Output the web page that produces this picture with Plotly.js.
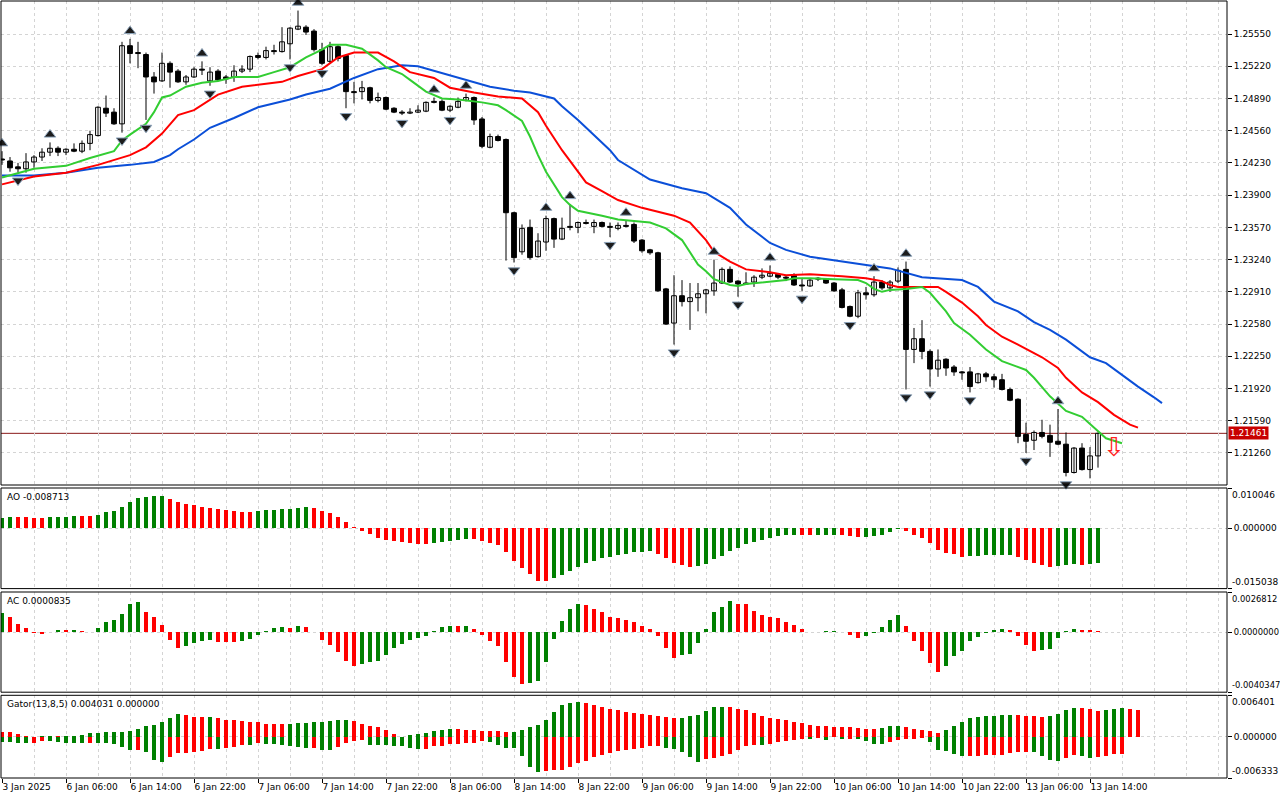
<!DOCTYPE html>
<html><head><meta charset="utf-8">
<script src="https://cdn.plot.ly/plotly-3.0.1.min.js"></script>
<style>html,body{margin:0;padding:0;background:#fff;}#chart{width:1280px;height:800px;}</style>
</head><body><div id="chart"></div>
<script>
// ---------- DATA ----------
const timeLabels = ['3 Jan 2025','6 Jan 06:00','6 Jan 14:00','6 Jan 22:00','7 Jan 06:00','7 Jan 14:00','7 Jan 22:00','8 Jan 06:00','8 Jan 14:00','8 Jan 22:00','9 Jan 06:00','9 Jan 14:00','9 Jan 22:00','10 Jan 06:00','10 Jan 14:00','10 Jan 22:00','13 Jan 06:00','13 Jan 14:00'];
const timeLabelIdx = [0,8,16,24,32,40,48,56,64,72,80,88,96,104,112,120,128,136];
const priceTicks = [1.21260,1.21590,1.21920,1.22250,1.22580,1.22910,1.23240,1.23570,1.23900,1.24230,1.24560,1.24890,1.25220,1.25550];

const open = [1.2427,1.2425,1.2419,1.2417,1.2424,1.2429,1.2434,1.2438,1.2434,1.2437,
1.2435,1.2443,1.2451,1.2479,1.2475,1.2463,1.2543,1.2536,1.2534,1.2511,
1.2507,1.2525,1.2517,1.2506,1.2511,1.2519,1.2507,1.2517,1.2511,1.2511,
1.2517,1.2519,1.2533,1.2531,1.2538,1.2537,1.2545,1.2560,1.2562,1.2558,
1.2539,1.2527,1.2542,1.2533,1.2496,1.2496,1.2500,1.2487,1.2490,1.2479,
1.2475,1.2474,1.2475,1.2476,1.2486,1.2486,1.2477,1.2480,1.2487,1.2490,
1.2468,1.2439,1.2450,1.2447,1.2372,1.2332,1.2357,1.2327,1.2342,1.2366,
1.2345,1.2358,1.2357,1.2362,1.2358,1.2362,1.2358,1.2356,1.2359,1.2360,
1.2344,1.2334,1.2331,1.2294,1.2259,1.2287,1.2281,1.2285,1.2289,1.2292,
1.2300,1.2314,1.2302,1.2299,1.2301,1.2306,1.2307,1.2309,1.2306,1.2308,
1.2298,1.2297,1.2305,1.2304,1.2300,1.2293,1.2276,1.2266,1.2290,1.2288,
1.2301,1.2295,1.2302,1.2314,1.2232,1.2243,1.2230,1.2212,1.2222,1.2214,
1.2209,1.2209,1.2198,1.2207,1.2204,1.2201,1.2191,1.2181,1.2145,1.2139,
1.2147,1.2144,1.2138,1.2135,1.2106,1.2131,1.2109,1.2123];
const high = [1.2435,1.2429,1.2423,1.2433,1.2431,1.2438,1.2444,1.2440,1.2438,1.2443,
1.2446,1.2456,1.2481,1.2492,1.2479,1.2547,1.2550,1.2547,1.2536,1.2516,
1.2536,1.2527,1.2519,1.2513,1.2521,1.2527,1.2521,1.2519,1.2513,1.2523,
1.2523,1.2533,1.2536,1.2542,1.2544,1.2562,1.2562,1.2579,1.2564,1.2560,
1.2546,1.2547,1.2544,1.2534,1.2506,1.2507,1.2501,1.2495,1.2491,1.2480,
1.2477,1.2479,1.2482,1.2486,1.2490,1.2488,1.2482,1.2490,1.2494,1.2491,
1.2470,1.2453,1.2452,1.2448,1.2373,1.2360,1.2365,1.2351,1.2369,1.2367,
1.2367,1.2381,1.2363,1.2365,1.2365,1.2363,1.2362,1.2362,1.2364,1.2362,
1.2345,1.2335,1.2332,1.2295,1.2308,1.2303,1.2300,1.2300,1.2294,1.2324,
1.2316,1.2317,1.2303,1.2311,1.2308,1.2315,1.2318,1.2310,1.2308,1.2310,
1.2304,1.2305,1.2306,1.2305,1.2301,1.2295,1.2277,1.2293,1.2296,1.2307,
1.2303,1.2303,1.2316,1.2322,1.2254,1.2262,1.2232,1.2232,1.2223,1.2216,
1.2210,1.2214,1.2208,1.2209,1.2207,1.2207,1.2193,1.2182,1.2157,1.2149,
1.2160,1.2155,1.2171,1.2147,1.2132,1.2136,1.2132,1.2147];
const low = [1.2421,1.2414,1.2413,1.2413,1.2418,1.2425,1.2430,1.2430,1.2431,1.2434,
1.2433,1.2436,1.2450,1.2470,1.2462,1.2454,1.2525,1.2520,1.2467,1.2494,
1.2506,1.2500,1.2505,1.2503,1.2510,1.2513,1.2502,1.2507,1.2504,1.2506,
1.2515,1.2516,1.2529,1.2529,1.2534,1.2536,1.2529,1.2559,1.2554,1.2537,
1.2523,1.2525,1.2527,1.2479,1.2484,1.2488,1.2484,1.2485,1.2477,1.2474,
1.2472,1.2473,1.2474,1.2475,1.2484,1.2476,1.2475,1.2479,1.2486,1.2462,
1.2438,1.2438,1.2445,1.2323,1.2321,1.2329,1.2324,1.2326,1.2333,1.2336,
1.2344,1.2354,1.2351,1.2360,1.2351,1.2357,1.2347,1.2354,1.2357,1.2341,
1.2331,1.2329,1.2291,1.2257,1.2237,1.2276,1.2252,1.2271,1.2269,1.2287,
1.2299,1.2300,1.2286,1.2298,1.2296,1.2304,1.2306,1.2304,1.2302,1.2297,
1.2292,1.2296,1.2302,1.2299,1.2291,1.2274,1.2265,1.2264,1.2283,1.2286,
1.2293,1.2291,1.2300,1.2191,1.2218,1.2222,1.2194,1.2204,1.2205,1.2205,
1.2201,1.2188,1.2197,1.2199,1.2193,1.2190,1.2179,1.2136,1.2126,1.2129,
1.2141,1.2122,1.2134,1.2102,1.2105,1.2108,1.2100,1.2111];
const close = [1.2426,1.2418,1.2417,1.2424,1.2429,1.2434,1.2438,1.2434,1.2437,1.2435,
1.2443,1.2452,1.2480,1.2474,1.2463,1.2543,1.2535,1.2535,1.2511,1.2506,
1.2525,1.2516,1.2506,1.2511,1.2519,1.2518,1.2516,1.2508,1.2509,1.2517,
1.2519,1.2532,1.2531,1.2538,1.2537,1.2547,1.2561,1.2563,1.2557,1.2539,
1.2525,1.2542,1.2530,1.2496,1.2495,1.2500,1.2487,1.2490,1.2478,1.2475,
1.2474,1.2475,1.2477,1.2485,1.2485,1.2477,1.2481,1.2486,1.2490,1.2467,
1.2440,1.2450,1.2446,1.2372,1.2326,1.2356,1.2326,1.2343,1.2366,1.2345,
1.2356,1.2357,1.2362,1.2361,1.2362,1.2358,1.2357,1.2359,1.2358,1.2343,
1.2333,1.2331,1.2292,1.2258,1.2287,1.2281,1.2285,1.2289,1.2293,1.2300,
1.2314,1.2301,1.2299,1.2300,1.2306,1.2308,1.2310,1.2306,1.2305,1.2298,
1.2297,1.2303,1.2304,1.2300,1.2292,1.2275,1.2266,1.2290,1.2288,1.2301,
1.2295,1.2301,1.2313,1.2232,1.2243,1.2230,1.2212,1.2221,1.2213,1.2209,
1.2208,1.2194,1.2207,1.2204,1.2201,1.2191,1.2180,1.2143,1.2138,1.2147,
1.2143,1.2137,1.2135,1.2106,1.2131,1.2109,1.2123,1.21461];

const jawIdx = [0,4,8,12,16,19,21,22,24,26,29,32,36,38,41,44,47,50,52,55,58,61,64,66,69,70,72,74,76,77,80,81,85,88,91,93,96,98,101,105,108,111,115,120,122,124,127,129,131,133,136,138,140,142,144,145];
const jawVal = [1.2410,1.2410,1.2413,1.2418,1.2421,1.2424,1.2431,1.2437,1.2447,1.2459,1.2469,1.2480,1.2488,1.2493,1.2499,1.2510,1.2519,1.2523,1.2522,1.2515,1.2508,1.2501,1.2497,1.2495,1.2489,1.2481,1.2467,1.2452,1.2436,1.2426,1.2411,1.2406,1.2397,1.2392,1.2377,1.2360,1.2341,1.2334,1.2327,1.2322,1.2319,1.2315,1.2306,1.2303,1.2296,1.2281,1.2271,1.2260,1.2252,1.2242,1.2224,1.2218,1.2206,1.2194,1.2183,1.2177];
const teethIdx = [0,4,8,12,16,18,20,21,22,24,26,27,30,32,35,37,40,42,44,47,49,51,54,56,59,62,65,67,68,70,72,73,75,77,80,82,84,86,88,89,91,93,96,98,101,105,108,110,111,112,115,117,118,120,122,123,125,127,130,132,133,135,137,139,141,142];
const teethVal = [1.2401,1.2409,1.2413,1.2421,1.2431,1.2439,1.2453,1.2462,1.2472,1.2477,1.2488,1.2493,1.2501,1.2503,1.2506,1.2512,1.2519,1.2531,1.2536,1.2536,1.2527,1.2516,1.2510,1.2500,1.2495,1.2491,1.2489,1.2475,1.2461,1.2436,1.2414,1.2403,1.2394,1.2385,1.2377,1.2373,1.2369,1.2362,1.2344,1.2332,1.2322,1.2314,1.2311,1.2308,1.2309,1.2307,1.2305,1.2302,1.2298,1.2296,1.2296,1.2296,1.2291,1.2280,1.2266,1.2257,1.2245,1.2237,1.2224,1.2213,1.2203,1.2188,1.2178,1.2165,1.2155,1.2152];
const lipsIdx = [0,4,8,11,14,15,16,18,19,20,21,23,25,27,29,32,34,36,38,40,41,43,45,47,48,50,51,53,55,57,60,62,63,65,66,67,68,70,71,72,75,77,81,83,85,86,87,88,89,91,92,93,96,98,99,101,104,107,108,109,110,111,113,115,116,118,119,121,123,125,128,129,131,132,133,135,136,137,138,140];
const lipsVal = [1.2408,1.2417,1.2420,1.2428,1.2435,1.2446,1.2452,1.2463,1.2475,1.2490,1.2492,1.2501,1.2505,1.2507,1.2511,1.2511,1.2516,1.2521,1.2531,1.2539,1.2544,1.2544,1.2540,1.2528,1.2521,1.2514,1.2508,1.2496,1.2489,1.2488,1.2485,1.2482,1.2477,1.2466,1.2450,1.2431,1.2414,1.2388,1.2380,1.2374,1.2369,1.2365,1.2362,1.2356,1.2344,1.2331,1.2319,1.2312,1.2304,1.2298,1.2297,1.2299,1.2301,1.2303,1.2305,1.2305,1.2304,1.2303,1.2300,1.2294,1.2291,1.2293,1.2294,1.2296,1.2290,1.2271,1.2259,1.2247,1.2232,1.2220,1.2211,1.2203,1.2184,1.2177,1.2169,1.2163,1.2156,1.2148,1.2141,1.2136];

const fractalUpIdx = [0,6,16,25,37,54,58,68,71,78,89,96,109,113,132];
const fractalDownIdx = [2,15,18,26,36,40,43,50,56,64,76,84,92,100,106,113,116,121,128,133];

const aoVal = [0.00266,0.00283,0.00278,0.00274,0.00258,0.00253,0.00274,0.00283,0.00287,0.00307,
0.00303,0.00299,0.00332,0.00407,0.00432,0.00532,0.00656,0.00756,0.00781,0.00798,
0.00806,0.00731,0.00656,0.00615,0.00582,0.00532,0.00515,0.00490,0.00449,0.00424,
0.00407,0.00403,0.00424,0.00449,0.00465,0.00482,0.00486,0.00507,0.00524,0.00507,
0.00432,0.00382,0.00283,0.00158,0.00033,-0.00058,-0.00133,-0.00233,-0.00283,-0.00307,
-0.00332,-0.00357,-0.00382,-0.00386,-0.00357,-0.00332,-0.00307,-0.00283,-0.00258,-0.00262,
-0.00307,-0.00357,-0.00407,-0.00582,-0.00806,-0.00981,-0.01130,-0.01305,-0.01309,-0.01230,
-0.01159,-0.01064,-0.00964,-0.00864,-0.00814,-0.00740,-0.00715,-0.00665,-0.00640,-0.00590,
-0.00582,-0.00573,-0.00640,-0.00740,-0.00864,-0.00914,-0.00964,-0.00939,-0.00889,-0.00765,
-0.00690,-0.00565,-0.00490,-0.00391,-0.00341,-0.00291,-0.00241,-0.00191,-0.00166,-0.00158,
-0.00166,-0.00175,-0.00166,-0.00162,-0.00158,-0.00175,-0.00191,-0.00216,-0.00212,-0.00191,
-0.00166,-0.00091,-0.00017,-0.00066,-0.00166,-0.00241,-0.00366,-0.00540,-0.00615,-0.00640,
-0.00715,-0.00690,-0.00681,-0.00677,-0.00673,-0.00665,-0.00656,-0.00715,-0.00789,-0.00864,
-0.00914,-0.00964,-0.00939,-0.00914,-0.00889,-0.00914,-0.00889,-0.008713];
const acVal = [0.00130,0.00101,0.00056,0.00029,-0.00004,-0.00011,-0.00002,0.00013,0.00011,0.00013,
0.00007,0.00002,0.00027,0.00067,0.00080,0.00121,0.00188,0.00201,0.00134,0.00101,
0.00047,-0.00051,-0.00105,-0.00092,-0.00071,-0.00058,-0.00056,-0.00065,-0.00066,-0.00067,
-0.00063,-0.00045,-0.00018,0.00004,0.00027,0.00034,0.00027,0.00040,0.00034,-0.00002,
-0.00051,-0.00085,-0.00132,-0.00192,-0.00226,-0.00212,-0.00199,-0.00192,-0.00152,-0.00105,
-0.00078,-0.00051,-0.00038,-0.00025,0.00004,0.00034,0.00042,0.00041,0.00043,0.00022,
-0.00018,-0.00058,-0.00092,-0.00199,-0.00299,-0.00346,-0.00344,-0.00326,-0.00199,-0.00045,
0.00076,0.00154,0.00188,0.00181,0.00154,0.00134,0.00101,0.00094,0.00080,0.00067,
0.00040,0.00020,-0.00025,-0.00105,-0.00172,-0.00152,-0.00145,-0.00071,0.00020,0.00134,
0.00168,0.00208,0.00188,0.00185,0.00141,0.00114,0.00101,0.00094,0.00067,0.00047,
0.00020,0.00002,0.00003,0.00004,0.00005,0.00001,-0.00022,-0.00038,-0.00025,-0.00004,
0.00034,0.00080,0.00114,0.00040,-0.00058,-0.00125,-0.00206,-0.00266,-0.00226,-0.00159,
-0.00125,-0.00058,-0.00031,-0.00004,0.00013,0.00020,0.00013,-0.00025,-0.00085,-0.00125,
-0.00118,-0.00112,-0.00038,0.00007,0.00020,0.00013,0.00012,0.0000835];
const gatorUpper = [0.00077,0.00076,0.00041,0.00010,0.00003,0.00010,0.00011,0.00010,0.00013,0.00021,
0.00031,0.00062,0.00064,0.00077,0.00080,0.00082,0.00088,0.00124,0.00170,0.00186,
0.00232,0.00294,0.00356,0.00340,0.00309,0.00304,0.00307,0.00294,0.00263,0.00260,
0.00237,0.00232,0.00222,0.00205,0.00202,0.00200,0.00202,0.00216,0.00218,0.00232,
0.00234,0.00247,0.00263,0.00265,0.00247,0.00201,0.00170,0.00155,0.00108,0.00046,
0.00002,0.00031,0.00046,0.00062,0.00093,0.00108,0.00124,0.00119,0.00108,0.00107,
0.00093,0.00092,0.00091,0.00077,0.00078,0.00108,0.00155,0.00186,0.00263,0.00387,
0.00495,0.00526,0.00541,0.00526,0.00495,0.00464,0.00433,0.00417,0.00387,0.00371,
0.00356,0.00340,0.00325,0.00309,0.00294,0.00296,0.00325,0.00340,0.00402,0.00464,
0.00466,0.00464,0.00433,0.00417,0.00371,0.00325,0.00294,0.00278,0.00263,0.00232,
0.00206,0.00186,0.00170,0.00168,0.00155,0.00154,0.00152,0.00139,0.00124,0.00121,
0.00139,0.00170,0.00173,0.00155,0.00124,0.00108,0.00093,0.00062,0.00108,0.00170,
0.00232,0.00294,0.00309,0.00325,0.00327,0.00340,0.00343,0.00340,0.00325,0.00322,
0.00309,0.00325,0.00356,0.00417,0.00448,0.00446,0.00433,0.004031,0.00417,0.00433,
0.00448,0.00433,0.00410];
const gatorLower = [-0.00082,-0.00083,-0.00093,-0.00094,-0.00092,-0.00062,-0.00064,-0.00082,-0.00093,-0.00094,
-0.00095,-0.00093,-0.00095,-0.00096,-0.00113,-0.00155,-0.00201,-0.00200,-0.00232,-0.00356,
-0.00387,-0.00309,-0.00247,-0.00246,-0.00232,-0.00216,-0.00186,-0.00188,-0.00170,-0.00160,
-0.00124,-0.00126,-0.00093,-0.00108,-0.00110,-0.00124,-0.00139,-0.00155,-0.00170,-0.00165,
-0.00201,-0.00204,-0.00155,-0.00093,-0.00062,-0.00046,-0.00124,-0.00126,-0.00129,-0.00139,
-0.00142,-0.00170,-0.00186,-0.00183,-0.00139,-0.00137,-0.00108,-0.00106,-0.00093,-0.00090,
-0.00062,-0.00077,-0.00124,-0.00170,-0.00173,-0.00294,-0.00464,-0.00541,-0.00526,-0.00515,
-0.00510,-0.00464,-0.00402,-0.00371,-0.00309,-0.00278,-0.00247,-0.00216,-0.00201,-0.00186,
-0.00170,-0.00144,-0.00139,-0.00170,-0.00186,-0.00232,-0.00309,-0.00392,-0.00340,-0.00325,
-0.00294,-0.00263,-0.00201,-0.00139,-0.00124,-0.00126,-0.00108,-0.00077,-0.00062,-0.00046,
-0.00031,-0.00034,-0.00015,-0.00041,-0.00003,-0.00031,-0.00028,-0.00034,-0.00062,-0.00108,
-0.00111,-0.00077,-0.00046,-0.00031,-0.00026,-0.00010,-0.00077,-0.00201,-0.00216,-0.00263,
-0.00294,-0.00291,-0.00289,-0.00286,-0.00278,-0.00276,-0.00247,-0.00232,-0.00229,-0.00232,
-0.00294,-0.00356,-0.00371,-0.00325,-0.00278,-0.00294,-0.00325,-0.00309,-0.00294,-0.00263,
-0.00258];

const lastPrice = 1.21461;
const sellSignalIdx = 139;
const sellSignalPrice = 1.2132;

// scale ranges (from axis labels)
const priceRange = [1.20932, 1.25888];
const aoRange = [-0.015038, 0.010046];
const acRange = [-0.0040347, 0.0026812];
const gatorRange = [-0.006333, 0.006401];

// ---------- BUILD ----------
const GREEN = '#008000', RED = '#ff0000';
const FAM = 'DejaVu Sans, Verdana, sans-serif';
const FONT = {family: FAM, size: 9, color: '#000'};
const FONT_S = {family: FAM, size: 8.4, color: '#000'};
const GRID = '#d4d4d4', DASH = '3px,3px';
const idx = open.map((_, i) => i);

const wx = [], wy = [];
idx.forEach(i => { wx.push(i, i, null); wy.push(low[i], high[i], null); });
const bodyBase = idx.map(i => Math.min(open[i], close[i]));
const bodyH = idx.map(i => Math.max(Math.abs(close[i] - open[i]), 0.00003));
const bodyCol = idx.map(i => close[i] >= open[i] ? '#ffffff' : '#000000');

function slopeColors(v, first, useAbs) {
  return v.map((x, i) => {
    if (i === 0) return first;
    const a = useAbs ? Math.abs(x) : x, b = useAbs ? Math.abs(v[i - 1]) : v[i - 1];
    return a > b ? GREEN : RED;
  });
}

const traces = [
  {type: 'scatter', mode: 'lines', x: wx, y: wy, xaxis: 'x', yaxis: 'y',
   line: {color: '#000', width: 1}, hoverinfo: 'skip'},
  {type: 'bar', x: idx, y: bodyH, base: bodyBase, xaxis: 'x', yaxis: 'y', width: 0.6,
   marker: {color: bodyCol, line: {color: '#000', width: 1}}},
  {type: 'scatter', mode: 'lines', x: jawIdx, y: jawVal, line: {color: '#0b4fd8', width: 2}, yaxis: 'y'},
  {type: 'scatter', mode: 'lines', x: teethIdx, y: teethVal, line: {color: '#ff0000', width: 2}, yaxis: 'y'},
  {type: 'scatter', mode: 'lines', x: lipsIdx, y: lipsVal, line: {color: '#32cd32', width: 2}, yaxis: 'y'},
  {type: 'scatter', mode: 'markers', x: fractalUpIdx, y: fractalUpIdx.map(i => high[i] + 0.0008), yaxis: 'y',
   cliponaxis: false,
   marker: {symbol: 'triangle-up', size: 10, color: '#1c1c1c', line: {color: '#8fa6bd', width: 1}}},
  {type: 'scatter', mode: 'markers', x: fractalDownIdx, y: fractalDownIdx.map(i => low[i] - 0.0008), yaxis: 'y',
   cliponaxis: false,
   marker: {symbol: 'triangle-down', size: 10, color: '#1c1c1c', line: {color: '#8fa6bd', width: 1}}},
  {type: 'bar', x: idx, y: aoVal, yaxis: 'y2', width: 0.62,
   marker: {color: slopeColors(aoVal, GREEN, false), line: {width: 0}}},
  {type: 'bar', x: idx, y: acVal, yaxis: 'y3', width: 0.62,
   marker: {color: slopeColors(acVal, GREEN, false), line: {width: 0}}},
  {type: 'bar', x: gatorUpper.map((_, i) => i), y: gatorUpper, yaxis: 'y4', width: 0.62,
   marker: {color: slopeColors(gatorUpper, RED, true), line: {width: 0}}},
  {type: 'bar', x: gatorLower.map((_, i) => i), y: gatorLower, yaxis: 'y4', width: 0.62,
   marker: {color: slopeColors(gatorLower, GREEN, true), line: {width: 0}}}
];

const H = 777, TOP = 1;
const dom = (a, b) => [(778 - b) / H, (778 - a) / H];

function indAxis(domain, range, zeroText, f) {
  return {domain: domain, range: range, side: 'right', anchor: 'x', fixedrange: true,
    tickvals: [range[0], 0, range[1]], ticktext: ['', zeroText, ''],
    ticks: 'outside', ticklen: 4, tickcolor: '#000', tickfont: f,
    showgrid: true, gridcolor: GRID, griddash: DASH, zeroline: false, showline: false};
}

const edge = (yref, y, text, f) => ({xref: 'paper', x: 1, xanchor: 'left', xshift: 3, yref: yref, y: y,
  yanchor: y === 1 ? 'top' : 'bottom', text: text, showarrow: false, font: f});
const title = (yref, text) => ({xref: 'paper', x: 0, xanchor: 'left', xshift: 4, yref: yref, y: 1,
  yanchor: 'top', yshift: -2, text: text, showarrow: false, font: FONT});

const layout = {
  width: 1280, height: 800,
  margin: {l: 1, r: 53, t: TOP, b: 22},
  paper_bgcolor: '#fff', plot_bgcolor: '#fff',
  showlegend: false, barmode: 'overlay', bargap: 0, hovermode: false,
  font: FONT,
  xaxis: {range: [-0.125, 153.125], anchor: 'y4', fixedrange: true,
    tickvals: timeLabelIdx, ticktext: timeLabels, ticklabelposition: 'outside right', tickangle: 0,
    ticks: 'outside', ticklen: 4, tickcolor: '#000', tickfont: FONT,
    showgrid: true, gridcolor: GRID, griddash: DASH,
    minor: {dtick: 4, tick0: 0, showgrid: true, gridcolor: GRID, griddash: DASH, ticks: ''},
    zeroline: false, showline: false},
  yaxis: {domain: dom(1, 485), range: priceRange, side: 'right', anchor: 'x', fixedrange: true,
    tickvals: priceTicks, tickformat: '.5f', ticks: 'outside', ticklen: 4, tickcolor: '#000', tickfont: FONT,
    showgrid: true, gridcolor: GRID, griddash: DASH, zeroline: false, showline: false},
  yaxis2: indAxis(dom(488, 588.6), aoRange, '0.000000', FONT),
  yaxis3: indAxis(dom(592, 692.2), acRange, '0.0000000', FONT_S),
  yaxis4: indAxis(dom(695.3, 778), gatorRange, '0.000000', FONT),
  shapes: [
    {type: 'line', xref: 'paper', x0: 0, x1: 1, yref: 'y', y0: lastPrice, y1: lastPrice,
     line: {color: '#8a1a1a', width: 1}, layer: 'below'},
    {type: 'rect', xref: 'paper', x0: 0, x1: 1, yref: 'y domain', y0: 0, y1: 1, line: {color: '#000', width: 1}},
    {type: 'rect', xref: 'paper', x0: 0, x1: 1, yref: 'y2 domain', y0: 0, y1: 1, line: {color: '#000', width: 1}},
    {type: 'rect', xref: 'paper', x0: 0, x1: 1, yref: 'y3 domain', y0: 0, y1: 1, line: {color: '#000', width: 1}},
    {type: 'rect', xref: 'paper', x0: 0, x1: 1, yref: 'y4 domain', y0: 0, y1: 1, line: {color: '#000', width: 1}}
  ],
  annotations: [
    {xref: 'paper', x: 1, xanchor: 'left', xshift: 1, yref: 'y', y: lastPrice, yanchor: 'middle',
     text: lastPrice.toFixed(5), showarrow: false, bgcolor: '#c80000', borderpad: 1,
     font: {family: FAM, size: 9, color: '#fff'}},
    {x: sellSignalIdx, y: sellSignalPrice, xref: 'x', yref: 'y', text: '⇩', showarrow: false,
     font: {family: 'DejaVu Sans', size: 26, color: '#ff2020'}},
    title('y2 domain', 'AO ' + aoVal[aoVal.length - 1].toFixed(6)),
    title('y3 domain', 'AC ' + acVal[acVal.length - 1].toFixed(7)),
    title('y4 domain', 'Gator(13,8,5) ' + gatorUpper[137].toFixed(6) + ' 0.000000'),
    edge('y2 domain', 1, aoRange[1].toFixed(6), FONT),
    edge('y2 domain', 0, aoRange[0].toFixed(6), FONT),
    edge('y3 domain', 1, acRange[1].toFixed(7), FONT_S),
    edge('y3 domain', 0, acRange[0].toFixed(7), FONT_S),
    edge('y4 domain', 1, gatorRange[1].toFixed(6), FONT),
    edge('y4 domain', 0, gatorRange[0].toFixed(6), FONT)
  ]
};

Plotly.newPlot('chart', traces, layout, {staticPlot: true, displayModeBar: false});
</script>
</body></html>
